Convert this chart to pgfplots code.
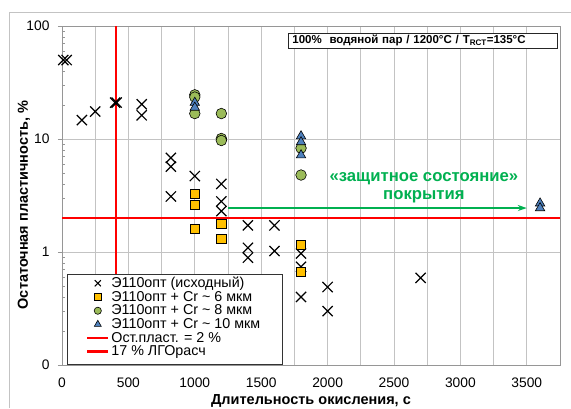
\documentclass[border=0pt]{standalone}
\usepackage{pgfplots}
\pgfplotsset{compat=1.18}
\usetikzlibrary{arrows.meta}
\usepackage{fontspec}
\setmainfont{Liberation Sans}
\definecolor{sq}{RGB}{255,192,0}
\definecolor{ci}{RGB}{155,187,89}
\definecolor{tr}{RGB}{79,129,189}
\definecolor{gr}{RGB}{0,176,80}
\definecolor{gridc}{RGB}{195,195,195}
\definecolor{axc}{RGB}{150,150,150}
\newcommand\lf{\fontsize{14.3}{14.2}\selectfont\strut}
\begin{document}
\begin{tikzpicture}[x=1pt,y=1pt]
\useasboundingbox (0,0) rectangle (571,408);
\draw[gridc, line width=0.8pt] (9,0) -- (9,396) -- (571,396);
\begin{axis}[
  at={(62pt,43pt)}, anchor=south west,
  scale only axis, width=498pt, height=339pt,
  xmin=0, xmax=3750, ymin=0.1, ymax=100, ymode=log,
  xtick={0,500,1000,1500,2000,2500,3000,3500},
  xticklabels={0,500,1000,1500,2000,2500,3000,3500},
  minor xtick={250,750,1250,1750,2250,2750,3250,3750},
  ytick={0.1,1,10,100}, yticklabels={0,1,10,100},
  minor ytick={0.2,0.3,0.4,0.5,0.6,0.7,0.8,0.9,2,3,4,5,6,7,8,9,20,30,40,50,60,70,80,90},
  xmajorgrids, xminorgrids, ymajorgrids,
  grid style={gridc, line width=0.8pt},
  minor grid style={gridc, line width=0.8pt},
  axis line style={axc, line width=0.8pt},
  x tick style={draw=none}, minor x tick style={draw=none},
  y tick style={axc, line width=0.6pt}, tick align=outside,
  minor y tick style={xshift=3pt},
  major tick length=4pt, minor tick length=3pt,
  ytick pos=left,
  tick label style={font=\fontsize{13.8}{15}\selectfont},
  xticklabel style={yshift=-5pt},
  yticklabel style={xshift=-5pt},
  xlabel={\bfseries Длительность окисления, с},
  ylabel={\bfseries Остаточная пластичность, \%},
  label style={font=\fontsize{14.5}{16}\selectfont},
  xlabel style={at={(0.5,0)}, anchor=center, yshift=-36pt},
  ylabel style={at={(0,0.472)}, anchor=center, yshift=38pt},
  legend image code/.code={\draw[mark repeat=2,mark phase=2,#1] plot coordinates {(0pt,0pt)(10.5pt,0pt)(21pt,0pt)};},
  legend style={at={(0.0482,0.2655)}, anchor=north west, draw=none, fill=none,
    inner xsep=0pt, inner ysep=0pt,
    row sep=-1.9pt, cells={anchor=west}},
  clip=false,
]
% red reference lines
\addplot[red, line width=1.6pt, forget plot] coordinates {(0,2) (3750,2)};
\addplot[red, line width=2.1pt, forget plot] coordinates {(405,0.1) (405,100)};
% green arrow
\addplot[gr, line width=1.6pt, -{Stealth[length=9pt,width=6pt]}, forget plot] coordinates {(1250,2.45) (3500,2.45)};
% X markers
\addplot[only marks, mark=x, mark size=7.2pt, black, line width=1.2pt, forget plot] coordinates {
(10,50)(35,50)(150,14.7)(250,17.5)(400,21)(412,21)(600,20.3)(600,16.2)
(820,6.8)(820,5.7)(820,3.1)(1000,4.7)(1200,4.0)(1200,2.8)(1200,2.3)
(1400,1.72)(1400,1.09)(1400,0.89)(1600,1.72)(1600,1.02)
(1800,0.97)(1800,0.74)(1800,0.40)(2000,0.49)(2000,0.30)(2700,0.59)};
% squares
\addplot[only marks, mark=square*, mark size=4.6pt, draw=black, fill=sq, line width=0.8pt, forget plot] coordinates {
(1000,3.25)(1000,2.6)(1000,1.6)(1200,1.76)(1200,1.3)(1800,1.15)(1800,0.67)};
% circles
\addplot[only marks, mark=*, mark size=5.3pt, draw=black, fill=ci, line width=0.6pt, forget plot] coordinates {
(1000,24.6)(1000,23.5)(1000,16.8)(1200,16.8)(1200,10.1)(1200,9.7)(1800,8.3)(1800,4.8)};
% triangles
\addplot[only marks, mark=triangle*, mark size=5.4pt, draw=black, fill=tr, line width=0.6pt, forget plot] coordinates {
(1000,21)(1000,19)(1800,10.6)(1800,9.4)(1800,7.2)(3600,2.7)(3600,2.45)};
% legend frame
\filldraw[fill=white, draw=black!80, line width=0.8pt] (rel axis cs:0.010,0.002) rectangle (rel axis cs:0.4418,0.2684);
% legend
\addlegendimage{only marks, mark=x, mark size=4.3pt, black, line width=1pt}
\addlegendimage{only marks, mark=square*, mark size=3.5pt, draw=black, fill=sq, line width=0.8pt}
\addlegendimage{only marks, mark=*, mark size=3.6pt, draw=black, fill=ci, line width=0.6pt}
\addlegendimage{only marks, mark=triangle*, mark size=4pt, draw=black, fill=tr, line width=0.6pt}
\addlegendimage{draw=red, line width=1.5pt}
\addlegendimage{draw=red, line width=2.2pt}
\legend{\lf Э110опт (исходный), \lf Э110опт + Cr \textasciitilde{} 6 мкм, \lf Э110опт + Cr \textasciitilde{} 8 мкм, \lf Э110опт + Cr \textasciitilde{} 10 мкм, \lf Ост.пласт. = 2 \%, \lf 17 \% ЛГОрасч}
% texts
\node[draw=black!85, line width=0.9pt, fill=white, anchor=west, minimum height=15pt, text width=261pt, inner xsep=4pt, inner ysep=1pt, align=left, font=\bfseries\fontsize{11.5}{12}\selectfont]
  at (rel axis cs:0.4538,0.957) {100\%\ \ водяной пар / 1200°C / T\textsubscript{RCT}=135°C};
\node[gr, align=center, font=\bfseries\fontsize{16.7}{18}\selectfont] at (axis cs:2725,3.71) {«защитное состояние»\\покрытия};
\end{axis}
\end{tikzpicture}
\end{document}
